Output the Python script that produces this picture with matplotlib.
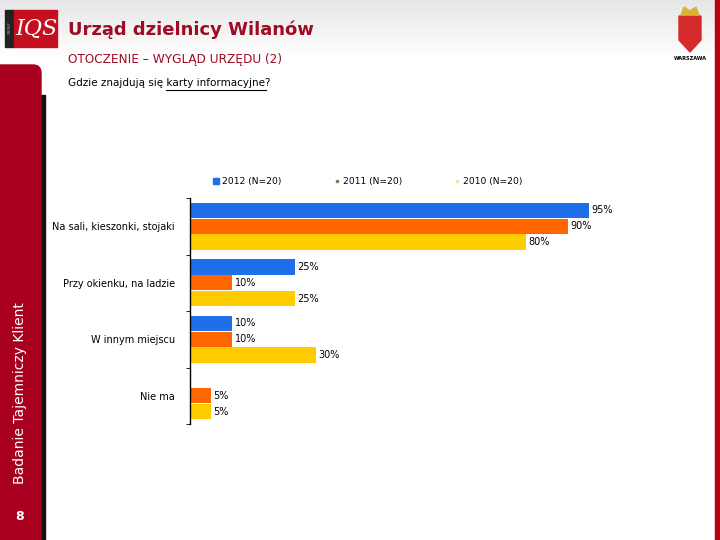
import numpy as np
import matplotlib.pyplot as plt
from matplotlib.patches import Rectangle, FancyBboxPatch, Polygon
from matplotlib.lines import Line2D

plt.rcParams["font.family"] = ["DejaVu Sans"]

# ── data ──────────────────────────────────────────────────────────────
categories = ["Na sali, kieszonki, stojaki", "Przy okienku, na ladzie",
              "W innym miejscu", "Nie ma"]
series_names = ["2012 (N=20)", "2011 (N=20)", "2010 (N=20)"]
v2012 = [95, 25, 10, 0]
v2011 = [90, 10, 10, 5]
v2010 = [80, 25, 30, 5]
colors = ["#1F6FEA", "#FF6600", "#FFCC00"]

RED = "#A8001E"
TITLE_RED = "#9E0B24"

W, H = 720, 540
fig = plt.figure(figsize=(7.2, 5.4), dpi=100)


def fx(px):
    return px / W


def fy(py):
    return 1 - py / H


# ── background decoration ─────────────────────────────────────────────
bg = fig.add_axes([0, 0, 1, 1], zorder=-5)
bg.set_xlim(0, W)
bg.set_ylim(H, 0)
bg.axis("off")
grad = np.linspace(0.90, 1.0, 60).reshape(-1, 1)
bg.imshow(np.repeat(grad, 2, axis=1), cmap="gray", vmin=0, vmax=1,
          extent=[0, W, 60, 0], aspect="auto", zorder=0)
# left sidebar
bg.add_patch(Rectangle((41, 95), 4, 445, color="#111111", zorder=1))
bg.add_patch(FancyBboxPatch((0, 73), 33, 480, boxstyle="round,pad=8",
                            color=RED, zorder=2))
# right stripe
bg.add_patch(Rectangle((715, 0), 5, 540, color="#B80012", zorder=1))
# IQS logo
bg.add_patch(Rectangle((5, 10), 9, 37, color="#222222", zorder=2))
bg.add_patch(Rectangle((14, 10), 43, 37, color="#C4101E", zorder=2))
bg.text(36, 29, "IQS", color="white", fontsize=16, fontstyle="italic",
        family="DejaVu Serif", ha="center", va="center", zorder=3)
bg.text(9.5, 28, "GROUP", color="#bbbbbb", fontsize=2.5, rotation=90,
        ha="center", va="center", zorder=3)
# Warsaw coat of arms
bg.add_patch(Polygon([(679, 16), (701, 16), (701, 40), (690, 52), (679, 40)],
                     closed=True, color="#D42A2A", zorder=2))
bg.add_patch(Polygon([(681, 15), (684, 7), (690, 11), (696, 7), (699, 15)],
                     closed=True, color="#D9B23A", zorder=3))
bg.text(690, 58, "WARSZAWA", fontsize=3.6, fontweight="bold",
        ha="center", va="center", zorder=3)

# titles
fig.text(fx(68), fy(30), "Urząd dzielnicy Wilanów", color=TITLE_RED,
         fontsize=13, fontweight="bold", va="center")
fig.text(fx(68), fy(59), "OTOCZENIE – WYGLĄD URZĘDU (2)", color=TITLE_RED,
         fontsize=8.7, va="center")
fig.text(fx(68), fy(83), "Gdzie znajdują się karty informacyjne?",
         fontsize=7.5, va="center")
fig.add_artist(Line2D([fx(166), fx(266)], [fy(90), fy(90)], color="black",
                      linewidth=0.8))
fig.text(fx(20), fy(393), "Badanie Tajemniczy Klient", color="white",
         fontsize=10, rotation=90, ha="center", va="center")
fig.text(fx(20), fy(517), "8", color="white", fontsize=9, fontweight="bold",
         ha="center", va="center")

# ── chart ─────────────────────────────────────────────────────────────
ax = fig.add_axes([fx(190), fy(424), fx(610 - 190), (424 - 198) / H])
n = len(categories)
y = np.arange(n)
bh = 0.27
for i, (vals, c, name) in enumerate(zip([v2012, v2011, v2010], colors,
                                        series_names)):
    pos = y + (i - 1) * 0.28
    ax.barh(pos, vals, height=bh, color=c, label=name)
    for p, v in zip(pos, vals):
        if v > 0:
            ax.text(v + 0.6, p, f"{v}%", va="center", ha="left", fontsize=7)

ax.set_xlim(0, 100)
ax.set_ylim(n - 0.5, -0.5)
ax.set_yticks(y)
ax.set_yticklabels(categories, fontsize=7)
ax.set_yticks(np.arange(n + 1) - 0.5, minor=True)
ax.tick_params(axis="y", which="major", length=0, pad=11)
ax.tick_params(axis="y", which="minor", length=3, direction="out")
ax.set_xticks([])
for s in ["top", "right", "bottom"]:
    ax.spines[s].set_visible(False)
ax.spines["left"].set_linewidth(1.0)

# legend
legend_x = [216, 337, 457]
marker_size = [5, 2, 2]
legend_mark = ["#1F6FEA", "#8C7A60", "#F3E4A0"]
for lx, name, mc, ms in zip(legend_x, series_names, legend_mark, marker_size):
    fig.add_artist(Line2D([fx(lx)], [fy(181)], marker="s", markersize=ms,
                          color=mc, linestyle="none"))
    fig.text(fx(lx + 6), fy(181), name, fontsize=6.6, va="center")

fig.savefig("out.png", dpi=100)
